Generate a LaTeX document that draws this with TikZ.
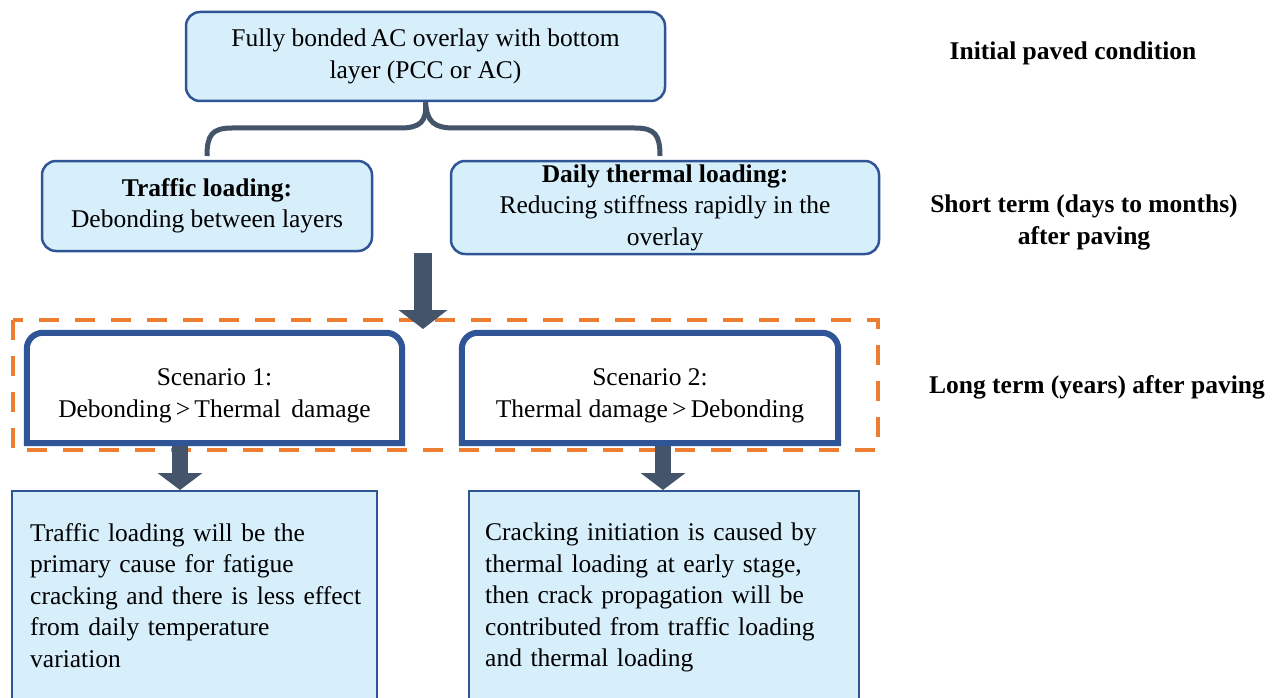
\documentclass[tikz,border=0pt]{standalone}
\usepackage{fontspec}
\setmainfont{Liberation Serif}
\usetikzlibrary{arrows.meta}
\definecolor{boxfill}{HTML}{D7EEFB}
\definecolor{boxline}{HTML}{2F5597}
\definecolor{arrowc}{HTML}{44546A}
\definecolor{orangec}{HTML}{ED7D31}
\tikzset{
  txt/.style={font=\fontsize{25.5}{31.5}\selectfont, align=center, inner sep=0pt},
  rbox/.style={txt, draw=boxline, line width=2.5pt, fill=boxfill, rounded corners=14pt},
  sbox/.style={txt, inner sep=0pt},
  scenline/.style={boxline, line width=6pt},
  sqbox/.style={draw=boxline, line width=2pt, fill=boxfill},
  lbl/.style={font=\fontsize{25.5}{31.5}\selectfont\bfseries, align=center, inner sep=0pt},
  brace/.style={arrowc, line width=5pt},
}
\begin{document}
\begin{tikzpicture}[x=1pt,y=-1pt]
\useasboundingbox (0,0) rectangle (1282,698);
\fill[white] (0,0) rectangle (1282,698);
% top box
\node[rbox, minimum width=479pt, minimum height=89pt] (top) at (425.5,56.5) {Fully bonded\,AC overlay with bottom\\layer (PCC or AC)};
% second row
\node[rbox, minimum width=330pt, minimum height=90pt] (traffic) at (207,206) {\textbf{Traffic loading:}\\Debonding between layers};
\node[rbox, minimum width=428pt, minimum height=93pt] (thermal) at (665,207.5) {\textbf{Daily thermal loading:}\\Reducing stiffness rapidly in the\\overlay};
% brace
\draw[brace] (top.south) .. controls (427,122) and (420,128) .. (400,128) -- (232,128) .. controls (212,128) and (207,135) .. (207,156);
\draw[brace] (top.south) .. controls (427,122) and (434,128) .. (454,128) -- (635,128) .. controls (655,128) and (660,135) .. (660,156);
% dashed region
\draw[orangec, line width=4pt, dash pattern=on 20pt off 16pt] (13,320) rectangle (878,450);
% scenarios (text sits slightly low in its frame)
\node[sbox, minimum width=375pt, minimum height=110pt] (s1) at (214.5,396) {Scenario 1:\\Debonding\,{>}\,Thermal\, damage};
\node[sbox, minimum width=376pt, minimum height=110pt] (s2) at (650,396) {Scenario 2:\\Thermal damage\,{>}\,Debonding};
\draw[scenline] ([yshift=8pt]s1.south west) [rounded corners=16pt] -- ([yshift=8pt]s1.north west) -- ([yshift=8pt]s1.north east) [sharp corners] -- ([yshift=8pt]s1.south east) -- cycle;
\draw[scenline] ([yshift=8pt]s2.south west) [rounded corners=16pt] -- ([yshift=8pt]s2.north west) -- ([yshift=8pt]s2.north east) [sharp corners] -- ([yshift=8pt]s2.south east) -- cycle;
% bottom boxes
\node[sqbox, minimum width=365pt, minimum height=212pt, inner sep=0pt] (b1) at (194.5,597) {};
\node[sqbox, minimum width=390pt, minimum height=212pt, inner sep=0pt] (b2) at (664,597) {};
\node[txt, align=left, anchor=north west, text width=345pt] (t1) at (30,523) {Traffic loading will be the\\primary cause for fatigue\\cracking and there is less effect\\from daily temperature\\variation};
\node[txt, align=left, anchor=north west, text width=370pt] (t2) at (485,523) {Cracking initiation is caused by\\thermal loading at early stage,\\then crack propagation will be\\contributed from traffic loading\\and thermal loading};
% block arrows
\coordinate (a1s) at (423,253);
\coordinate (a1e) at (423,329);
\draw[arrowc, line width=18pt, -{Triangle[width=48pt,length=19pt]}] (a1s) -- (a1e);
\coordinate (a2s) at (180,446);
\draw[arrowc, line width=16pt, -{Triangle[width=44pt,length=17pt]}] (a2s) -- (b1.north -| a2s);
\coordinate (a3s) at (663,446);
\draw[arrowc, line width=16pt, -{Triangle[width=44pt,length=17pt]}] (a3s) -- (b2.north -| a3s);
% right labels
\node[lbl] (l1) at (1073,53) {Initial paved condition};
\node[lbl] (l2) at (1084,222.5) {Short term (days to months)\\after paving};
\node[lbl] (l3) at (1097,387.5) {Long term (years) after paving};
\end{tikzpicture}
\end{document}
